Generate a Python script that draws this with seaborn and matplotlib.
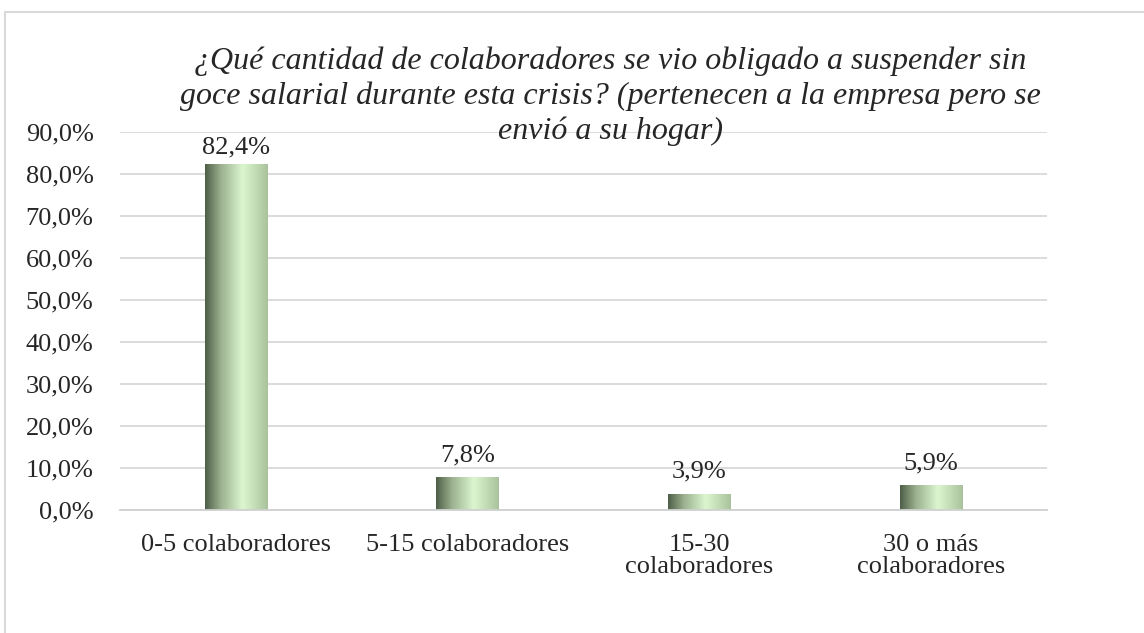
import numpy as np
import pandas as pd
import seaborn as sns
import matplotlib.pyplot as plt
import matplotlib.ticker as mtick
from matplotlib.colors import LinearSegmentedColormap
from matplotlib.patches import Rectangle

categorias = ["0-5 colaboradores", "5-15 colaboradores", "15-30\ncolaboradores", "30 o más\ncolaboradores"]
porcentajes = [82.4, 7.8, 3.9, 5.9]
titulo = ["¿Qué cantidad de colaboradores se vio obligado a suspender sin",
          "goce salarial durante esta crisis? (pertenecen a la empresa pero se",
          "envió a su hogar)"]

sns.set_style("white")
plt.rcParams['font.family'] = ['Liberation Serif', 'DejaVu Serif']

df = pd.DataFrame({"cat": categorias, "val": porcentajes})

fig = plt.figure(figsize=(11.44, 6.33), dpi=100)
ax = fig.add_axes([120 / 1144, 1 - 510 / 633, (1047 - 120) / 1144, (510 - 132) / 633])

sns.barplot(data=df, x="cat", y="val", color="#c6e0b4", width=0.27, ax=ax)

# gradient fill, dark on the left, light in the middle
cmap = LinearSegmentedColormap.from_list(
    "verde", [(0.0, "#4e5e48"), (0.25, "#9bb08e"), (0.6, "#dcf7d0"), (1.0, "#a9c29c")])
grad = np.linspace(0, 1, 256).reshape(1, -1)
for p in ax.patches:
    x0, w, h = p.get_x(), p.get_width(), p.get_height()
    p.set_facecolor("none")
    p.set_edgecolor("none")
    im = ax.imshow(grad, cmap=cmap, aspect="auto", extent=(x0, x0 + w, 0, h), zorder=2)
    im.set_clip_path(p)
    # labels stay inside the plot area, like excel does
    ytxt = min(h + 2.6, 83.6)
    ax.text(x0 + w / 2, ytxt, f"{h:.1f}%".replace(".", ","), ha="center", va="bottom",
            fontsize=19)

ax.set_xlim(-0.5, 3.5)
ax.set_ylim(0, 90)
ax.set_yticks(np.arange(0, 91, 10))
ax.yaxis.set_major_formatter(mtick.FuncFormatter(lambda v, _: f"{v:.1f}%".replace(".", ",")))
ax.grid(axis="y", color="#d9d9d9", linewidth=1.3)
ax.set_axisbelow(True)
for s in ["top", "right", "left"]:
    ax.spines[s].set_visible(False)
ax.spines["bottom"].set_color("#d0d0d0")
ax.spines["bottom"].set_linewidth(1.3)
ax.set_xlabel("")
ax.set_ylabel("")
ax.tick_params(axis="y", length=0, labelsize=19, pad=19)
ax.tick_params(axis="x", length=0, labelsize=19, pad=17)
for lbl in ax.get_xticklabels():
    lbl.set_linespacing(1.05)
ax.set_xticks(np.arange(-0.5, 3.6, 1), minor=True)
ax.tick_params(axis="x", which="minor", length=8, color="#d0d0d0", width=1.3)

# title, one text per line
for i, linea in enumerate(titulo):
    fig.text(610 / 1144, 1 - (61 + 35 * i) / 633, linea, ha="center", va="center",
             fontsize=23, fontstyle="italic")

fig.patches.append(Rectangle((5 / 1144, -0.01), 1.2, 1 - 12 / 633 + 0.01, transform=fig.transFigure,
                             fill=False, edgecolor="#d9d9d9", linewidth=1.5))

fig.savefig("out.png", dpi=100)
